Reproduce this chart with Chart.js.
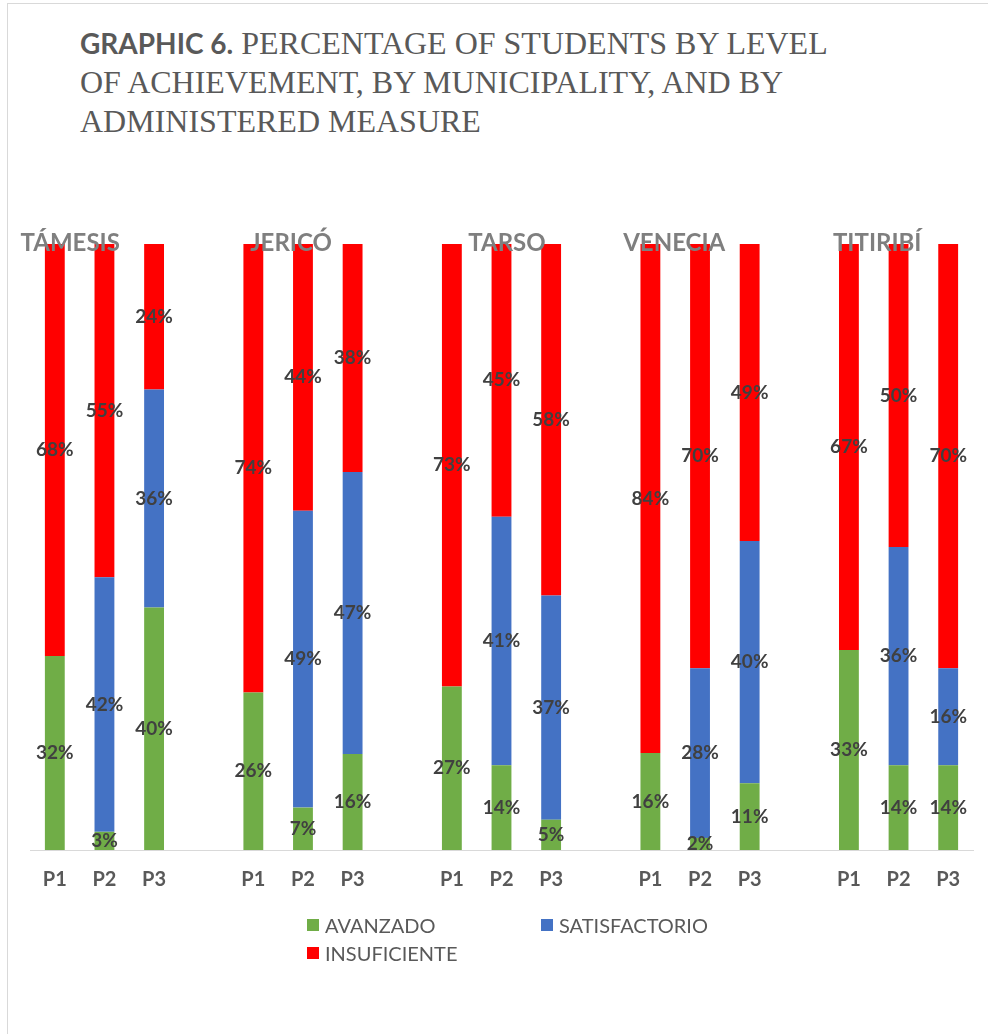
<!DOCTYPE html>
<html>
<head>
<meta charset="utf-8">
<script src="https://cdn.jsdelivr.net/npm/chart.js@4.4.1/dist/chart.umd.min.js"></script>
<style>
  html, body { margin: 0; padding: 0; background: #fff; }
  body { width: 988px; height: 1034px; position: relative; overflow: hidden; }
  #frame { position: absolute; left: 7px; top: 3px; width: 1000px; height: 1060px; border: 1px solid #d9d9d9; box-sizing: border-box; }
  #title { position: absolute; left: 80px; top: 24px; width: 770px; color: #595959; font-family: "Liberation Serif", "DejaVu Serif", "Times New Roman", Times, serif; font-size: 32px; line-height: 39px; }
  #title b { font-family: Lato, "Open Sans", sans-serif; font-weight: 700; font-size: 28px; }
  #chartBox { position: absolute; left: 0; top: 0; width: 988px; height: 1034px; }
  #legend { position: absolute; left: 307px; top: 912px; display: grid; grid-template-columns: 234px 240px; row-gap: 2px; font-family: Lato, "Open Sans", sans-serif; font-size: 20px; color: #595959; }
  #legend div { display: flex; align-items: center; height: 26px; }
  #legend span.sw { width: 12px; height: 12px; margin-right: 6px; display: inline-block; }
</style>
</head>
<body>
<div id="frame"></div>
<div id="title"><b>GRAPHIC 6.</b> PERCENTAGE OF STUDENTS BY LEVEL OF ACHIEVEMENT, BY MUNICIPALITY, AND BY ADMINISTERED MEASURE</div>
<div id="chartBox"><canvas id="c" width="988" height="1034"></canvas></div>
<div id="legend"></div>
<script>
// Municipalities and the three measures applied in each
const municipalities = ['TÁMESIS', 'JERICÓ', 'TARSO', 'VENECIA', 'TITIRIBÍ'];
const measures = ['P1', 'P2', 'P3'];

// Percentage of students per level, per municipality (P1, P2, P3)
const avanzado = [
  [32, 3, 40],
  [26, 7, 16],
  [27, 14, 5],
  [16, 2, 11],
  [33, 14, 14]
];
const satisfactorio = [
  [0, 42, 36],
  [0, 49, 47],
  [0, 41, 37],
  [0, 28, 40],
  [0, 36, 16]
];
const insuficiente = [
  [68, 55, 24],
  [74, 44, 38],
  [73, 45, 58],
  [84, 70, 49],
  [67, 50, 70]
];

const seriesNames = ['AVANZADO', 'SATISFACTORIO', 'INSUFICIENTE'];
const seriesColors = ['#70AD47', '#4472C4', '#FF0000'];

// Category axis: three measures per municipality with an empty slot between groups
const labels = [];
const rawBySeries = [[], [], []];
const source = [avanzado, satisfactorio, insuficiente];
municipalities.forEach((m, g) => {
  if (g > 0) {
    labels.push('');
    rawBySeries.forEach(s => s.push(null));
  }
  measures.forEach((p, k) => {
    labels.push(p);
    source.forEach((arr, s) => rawBySeries[s].push(arr[g][k]));
  });
});

// 100% stacked: each bar is scaled to its own total
const totals = labels.map((_, i) => rawBySeries.reduce((a, s) => a + (s[i] || 0), 0));
const shares = rawBySeries.map(s => s.map((v, i) => v === null ? null : (v / totals[i]) * 100));

// Where each municipality name sits along the category axis (in category units)
const groupTitleAt = [0.31, 4.76, 9.11, 12.48, 16.57];

const valueLabels = {
  id: 'valueLabels',
  afterDatasetsDraw(chart) {
    const ctx = chart.ctx;
    ctx.save();
    ctx.font = 'bold 19px Lato, "Open Sans", sans-serif';
    ctx.fillStyle = '#404040';
    ctx.textAlign = 'center';
    ctx.textBaseline = 'middle';
    chart.data.datasets.forEach((ds, di) => {
      const meta = chart.getDatasetMeta(di);
      meta.data.forEach((el, i) => {
        const raw = rawBySeries[di][i];
        if (!raw) return;
        const y = (el.y + el.base) / 2;
        ctx.fillText(raw + '%', el.x, y);
      });
    });
    ctx.restore();
  },
  afterDraw(chart) {
    const ctx = chart.ctx;
    const xs = chart.scales.x;
    const step = xs.getPixelForValue(1) - xs.getPixelForValue(0);
    ctx.save();
    ctx.font = 'bold 24px Lato, "Open Sans", sans-serif';
    ctx.fillStyle = '#7f7f7f';
    ctx.textAlign = 'center';
    ctx.textBaseline = 'alphabetic';
    municipalities.forEach((m, g) => {
      const x = xs.getPixelForValue(0) + groupTitleAt[g] * step;
      ctx.fillText(m, x, chart.chartArea.top + 7);
    });
    ctx.restore();
  }
};

const chart = new Chart(document.getElementById('c'), {
  type: 'bar',
  data: {
    labels: labels,
    datasets: seriesNames.map((name, s) => ({
      label: name,
      data: shares[s],
      backgroundColor: seriesColors[s],
      borderWidth: 0,
      barPercentage: 0.4,
      categoryPercentage: 1.0
    }))
  },
  options: {
    responsive: false,
    animation: false,
    events: [],
    layout: { padding: { left: 30, right: 15, top: 244, bottom: 124 } },
    plugins: { legend: { display: false }, tooltip: { enabled: false }, title: { display: false } },
    scales: {
      x: {
        stacked: true,
        grid: { display: false, drawTicks: false },
        border: { display: true, color: '#d9d9d9', width: 1 },
        ticks: {
          padding: 18,
          color: '#595959',
          font: { family: 'Lato, "Open Sans", sans-serif', size: 20, weight: 'bold' },
          autoSkip: false,
          maxRotation: 0
        }
      },
      y: {
        stacked: true,
        display: false,
        min: 0,
        max: 100
      }
    }
  },
  plugins: [valueLabels]
});

// Legend built from the chart's datasets
const legend = document.getElementById('legend');
chart.data.datasets.forEach(ds => {
  const d = document.createElement('div');
  const sw = document.createElement('span');
  sw.className = 'sw';
  sw.style.background = ds.backgroundColor;
  d.appendChild(sw);
  d.appendChild(document.createTextNode(ds.label));
  legend.appendChild(d);
});
</script>
</body>
</html>
